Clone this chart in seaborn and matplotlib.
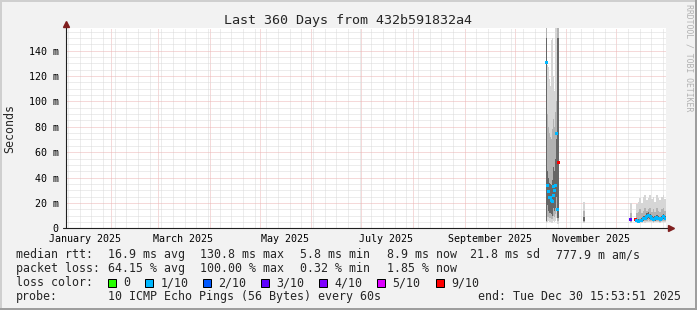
import numpy as np
import pandas as pd
import matplotlib
matplotlib.use("Agg")
import matplotlib.pyplot as plt
import matplotlib.dates as mdates
import seaborn as sns

# ---------------- data ----------------
title = "Last 360 Days from 432b591832a4"
end_time = "2025-12-30 15:53:51"
span_days = 360

stamps = [
    "2025-10-20 00:00", "2025-10-20 12:00", "2025-10-21 00:00", "2025-10-21 12:00",
    "2025-10-22 00:00", "2025-10-22 12:00", "2025-10-23 00:00", "2025-10-23 12:00",
    "2025-10-24 00:00", "2025-10-24 12:00", "2025-10-25 00:00", "2025-10-25 12:00",
    "2025-10-26 00:00", "2025-10-26 12:00", "2025-10-27 00:00",
    "2025-11-11 12:00",
    "2025-12-09 18:00",
    "2025-12-12 18:00",
    "2025-12-13 06:00", "2025-12-14 06:00", "2025-12-15 06:00", "2025-12-16 06:00",
    "2025-12-17 06:00", "2025-12-18 06:00", "2025-12-19 06:00", "2025-12-20 06:00",
    "2025-12-21 06:00", "2025-12-22 06:00", "2025-12-23 06:00", "2025-12-24 06:00",
    "2025-12-25 06:00", "2025-12-26 06:00", "2025-12-27 06:00", "2025-12-28 06:00",
    "2025-12-29 06:00", "2025-12-30 06:00",
]
# median rtt (ms)
median_ms = [131, 34, 29, 29, 24, 24, 22, 21, 26, 33, 30, 34, 75, 15, 52,
             np.nan,
             6.7,
             7,
             6, 5.5, 6, 6.5, 7.5, 8, 9.5, 10, 9, 8, 7, 7.5, 8.5, 8, 7, 8, 9, 8]
loss = ["1/10", "1/10", "1/10", "1/10", "1/10", "1/10", "1/10", "1/10",
        "1/10", "1/10", "1/10", "1/10", "1/10", "1/10", "9/10",
        "1/10",
        "3/10",
        "9/10",
        "1/10", "1/10", "1/10", "1/10", "1/10", "1/10", "1/10", "1/10", "1/10",
        "1/10", "1/10", "1/10", "1/10", "1/10", "1/10", "1/10", "1/10", "1/10"]
# smoke: outer (min..max), middle (lo..hi), core (core_lo..core_hi) in ms
smoke_min = [4, 5, 5, 6, 5, 5, 4, 4, 5, 6, 5, 6, 8, 4, 3,
             4, 4, 4.5,
             4.2, 4, 4.3, 4.5, 4.6, 4.5, 5, 5.2, 5, 4.8, 4.4, 4.6, 5, 4.7, 4.3, 4.6, 5, 4.7]
smoke_max = [158, 129, 128, 127, 118, 112, 148, 150, 111, 120, 108, 158, 158, 140, 158,
             21, 20, 16,
             19, 21, 24, 20, 25, 26, 22, 24, 26, 23, 25, 21, 26, 24, 22, 25, 26, 23]
smoke_lo = [5, 9, 8, 9, 8, 8, 7, 7, 9, 10, 9, 11, 14, 7, 6,
            5, 5, 5.5,
            5, 4.8, 5, 5.2, 5.5, 5.5, 6, 6.5, 6, 5.5, 5, 5.5, 6, 5.5, 5, 5.5, 6, 5.5]
smoke_hi = [158, 90, 85, 80, 75, 72, 70, 78, 82, 86, 80, 92, 100, 60, 158,
            14, 12, 11,
            12, 13, 15, 12, 14, 16, 14, 15, 16, 13, 15, 13, 16, 14, 13, 15, 16, 14]
core_lo = [6, 18, 15, 14, 12, 12, 11, 10, 13, 16, 14, 16, 25, 9, 8,
           6, 5.5, 6,
           5.2, 4.9, 5.2, 5.5, 6, 6.5, 7.5, 8, 7.3, 6.5, 5.8, 6, 7, 6.5, 5.8, 6.5, 7.3, 6.5]
core_hi = [150, 45, 42, 40, 36, 35, 34, 38, 42, 48, 45, 55, 70, 30, 150,
           9, 8, 8.5,
           7.5, 7, 7.5, 8, 9.5, 10, 12, 12.5, 11, 10, 9, 9.5, 10.5, 10, 9, 10, 11, 10]

loss_labels = ["0", "1/10", "2/10", "3/10", "4/10", "5/10", "9/10"]
loss_colors = ["#26ff00", "#00b8ff", "#0059ff", "#5e00ff", "#7e00ff", "#dd00ff", "#ff0000"]

ytick_vals = [0, 20, 40, 60, 80, 100, 120, 140]
ytick_text = ["0", "20 m", "40 m", "60 m", "80 m", "100 m", "120 m", "140 m"]
month_labels = ["January 2025", "March 2025", "May 2025", "July 2025",
                "September 2025", "November 2025"]

rtt_stats = ["16.9 ms avg", "130.8 ms max", "5.8 ms min", "8.9 ms now",
             "21.8 ms sd", "777.9 m am/s"]
loss_stats = ["64.15 % avg", "100.00 % max", "0.32 % min", "1.85 % now"]
probe_text = "10 ICMP Echo Pings (56 Bytes) every 60s"
end_text = "end: Tue Dec 30 15:53:51 2025"
watermark = "RRDTOOL / TOBI OETIKER"

# ---------------- style ----------------
sns.set_style("white")
plt.rcParams["font.family"] = ["DejaVu Sans Mono", "DejaVu Sans"]

W, H, DPI = 697, 310, 100
BG = "#f2f2f2"
fig = plt.figure(figsize=(W / DPI, H / DPI), dpi=DPI, facecolor=BG)

L, R, T, B = 65.8, 665.8, 28.3, 228.3
ax = fig.add_axes([L / W, 1 - B / H, (R - L) / W, (B - T) / H])
ax.set_facecolor("white")
for s in ax.spines.values():
    s.set_visible(False)


def fx(x):
    return x / W


def fy(y):
    return 1 - y / H


end = pd.Timestamp(end_time)
start = end - pd.Timedelta(days=span_days)
ax.set_xlim(mdates.date2num(start), mdates.date2num(end))
ax.set_ylim(0, 157.6)

t = mdates.date2num(pd.to_datetime(stamps))
widths = np.minimum(np.diff(t, append=t[-1] + 1), 0.9)
smin = np.array(smoke_min, float)
smax = np.array(smoke_max, float)
slo = np.array(smoke_lo, float)
shi = np.array(smoke_hi, float)
clo = np.array(core_lo, float)
chi = np.array(core_hi, float)

ax.bar(t, smax - smin, bottom=smin, width=widths, color="#d6d6d6", linewidth=0, zorder=2)
ax.bar(t, shi - slo, bottom=slo, width=widths, color="#b2b2b2", linewidth=0, zorder=3)
ax.bar(t, chi - clo, bottom=clo, width=widths, color="#666666", linewidth=0, zorder=4)

df = pd.DataFrame({"t": t, "median": median_ms, "loss": loss})
sns.scatterplot(data=df, x="t", y="median", hue="loss",
                palette=dict(zip(loss_labels, loss_colors)),
                marker="s", s=4.5, linewidth=0, legend=False, ax=ax, zorder=6)
ax.set_xlabel("")
ax.set_ylabel("")

# grid
ax.xaxis.set_major_locator(mdates.MonthLocator())
ax.xaxis.set_minor_locator(mdates.WeekdayLocator(byweekday=mdates.MO))
ax.set_yticks(ytick_vals, ytick_text)
ax.set_yticks(np.arange(0, 158, 5), minor=True)
ax.set_axisbelow(True)
ax.grid(True, which="major", color="#ecb4b4", linestyle=(0, (1, 1)), linewidth=0.72)
ax.grid(True, which="minor", color="#dadada", linestyle=(0, (1, 1)), linewidth=0.72)
ax.tick_params(axis="x", which="major", length=2, width=0.72, color="#de4f4f",
               labelbottom=False, direction="out")
ax.tick_params(axis="x", which="minor", length=1.5, width=0.72, color="#9a9a9a",
               direction="out")
ax.tick_params(axis="y", which="major", length=2.5, width=0.72, color="#1f1f1f",
               pad=2.6, labelsize=7.2, direction="out", labelcolor="black")
ax.tick_params(axis="y", which="minor", length=1.5, width=0.72, color="#9a9a9a",
               direction="out")

# month labels
for lab in month_labels:
    d = pd.to_datetime(lab) + pd.Timedelta(days=15)
    ax.text(mdates.date2num(d), -0.067, lab, transform=ax.get_xaxis_transform(),
            ha="center", va="baseline", fontsize=7.2, color="black")

# axis lines with arrows
ax.plot([0, 0], [0, 1.012], transform=ax.transAxes, clip_on=False,
        color="#1f1f1f", lw=0.8, zorder=8)
ax.plot([-0.004, 1.0037], [0, 0], transform=ax.transAxes, clip_on=False,
        color="#1f1f1f", lw=0.8, zorder=8)
ax.plot([0.0008], [1.022], transform=ax.transAxes, clip_on=False, marker="^",
        markersize=4.6, color="#801f1f", zorder=9, linestyle="none")
ax.plot([1.0085], [0], transform=ax.transAxes, clip_on=False, marker=">",
        markersize=4.6, color="#801f1f", zorder=9, linestyle="none")

# texts
fig.text(fx(348.5), fy(24), title, ha="center", va="baseline", fontsize=9.6)
fig.text(fx(10), fy(128.3), "Seconds", rotation=90, ha="center", va="center",
         fontsize=8.4)
fig.text(fx(688.5), fy(4), watermark, rotation=270, ha="center", va="top",
         fontsize=5.9, color="#b2b2b2")

LFS = 8.4
cols = [107.6, 200, 300.4, 386.7, 469.8, 555.6]
rows = [258.2, 272.2, 286.2, 300.2]
fig.text(fx(16), fy(rows[0]), "median rtt:", ha="left", va="baseline", fontsize=LFS)
for c, s in zip(cols, rtt_stats):
    fig.text(fx(c), fy(rows[0]), s, ha="left", va="baseline", fontsize=LFS)
fig.text(fx(16), fy(rows[1]), "packet loss:", ha="left", va="baseline", fontsize=LFS)
for c, s in zip(cols, loss_stats):
    fig.text(fx(c), fy(rows[1]), s, ha="left", va="baseline", fontsize=LFS)
fig.text(fx(16), fy(rows[2]), "loss color:", ha="left", va="baseline", fontsize=LFS)
box_x = [108.4, 145.3, 203.1, 261.3, 319.1, 376.9, 435.6]
for bx, lab, col in zip(box_x, loss_labels, loss_colors):
    fig.add_artist(plt.Rectangle((fx(bx), fy(286.7)), 8 / W, 8 / H,
                                 transform=fig.transFigure, facecolor=col,
                                 edgecolor="black", linewidth=0.72))
    fig.text(fx(bx + 15.2), fy(rows[2]), lab, ha="left", va="baseline", fontsize=LFS)
fig.text(fx(16), fy(rows[3]), "probe:", ha="left", va="baseline", fontsize=LFS)
fig.text(fx(107.6), fy(rows[3]), probe_text, ha="left", va="baseline", fontsize=LFS)
fig.text(fx(477.8), fy(rows[3]), end_text, ha="left", va="baseline", fontsize=LFS)

# frame (rrdtool shade)
fig.add_artist(plt.Rectangle((0, 0), 2 / W, 1, transform=fig.transFigure,
                             facecolor="#cfcfcf", edgecolor="none"))
fig.add_artist(plt.Rectangle((0, 1 - 2 / H), 1, 2 / H, transform=fig.transFigure,
                             facecolor="#cfcfcf", edgecolor="none"))
fig.add_artist(plt.Rectangle((1 - 2 / W, 0), 2 / W, 1, transform=fig.transFigure,
                             facecolor="#9e9e9e", edgecolor="none"))
fig.add_artist(plt.Rectangle((0, 0), 1, 2 / H, transform=fig.transFigure,
                             facecolor="#9e9e9e", edgecolor="none"))

fig.savefig("out.png", dpi=DPI, facecolor=BG)
